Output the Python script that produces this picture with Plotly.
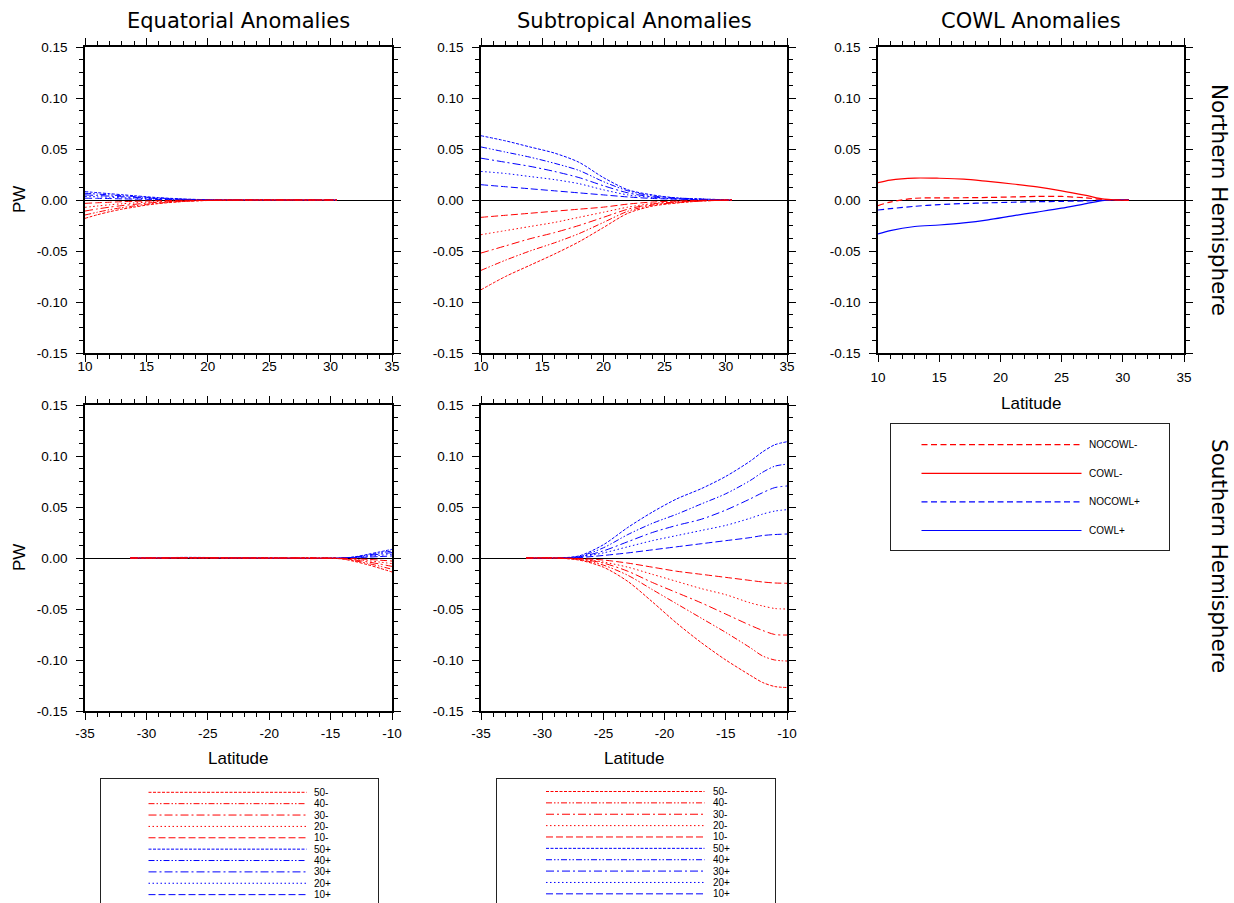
import plotly.graph_objects as go

W, H = 1234, 903

# ---------------- data ----------------
series_names = ["50-", "40-", "30-", "20-", "10-", "50+", "40+", "30+", "20+", "10+"]
cowl_names = ["NOCOWL-", "COWL-", "NOCOWL+", "COWL+"]

x_ticks_nh = [10, 15, 20, 25, 30, 35]
x_ticks_nh_text = ["10", "15", "20", "25", "30", "35"]
x_ticks_sh = [-35, -30, -25, -20, -15, -10]
x_ticks_sh_text = ["-35", "-30", "-25", "-20", "-15", "-10"]
y_ticks = [-0.15, -0.10, -0.05, 0.0, 0.05, 0.10, 0.15]
y_ticks_text = ["-0.15", "-0.10", "-0.05", "0.00", "0.05", "0.10", "0.15"]

# Equatorial anomalies, Northern Hemisphere
eq_nh_lat = [10, 11, 12, 13, 14, 15, 16, 18, 20, 24, 28, 30.5]
eq_nh_neg = [
    [-0.0180, -0.0145, -0.0115, -0.0090, -0.0070, -0.0050, -0.0035, -0.0015, -0.0005, 0, 0, 0],
    [-0.0147, -0.0120, -0.0095, -0.0075, -0.0058, -0.0042, -0.0030, -0.0013, -0.0004, 0, 0, 0],
    [-0.0108, -0.0088, -0.0070, -0.0055, -0.0043, -0.0031, -0.0022, -0.0010, -0.0003, 0, 0, 0],
    [-0.0072, -0.0059, -0.0047, -0.0037, -0.0029, -0.0021, -0.0015, -0.0007, -0.0002, 0, 0, 0],
    [-0.0033, -0.0027, -0.0022, -0.0017, -0.0013, -0.0010, -0.0007, -0.0003, -0.0001, 0, 0, 0],
]
eq_nh_pos = [
    [0.0082, 0.0072, 0.0062, 0.0052, 0.0042, 0.0032, 0.0023, 0.0010, 0.0003, 0, 0, 0],
    [0.0066, 0.0058, 0.0050, 0.0042, 0.0034, 0.0026, 0.0019, 0.0008, 0.0002, 0, 0, 0],
    [0.0050, 0.0044, 0.0038, 0.0032, 0.0026, 0.0020, 0.0014, 0.0006, 0.0002, 0, 0, 0],
    [0.0035, 0.0031, 0.0027, 0.0022, 0.0018, 0.0014, 0.0010, 0.0004, 0.0001, 0, 0, 0],
    [0.0018, 0.0016, 0.0014, 0.0011, 0.0009, 0.0007, 0.0005, 0.0002, 0.0001, 0, 0, 0],
]

# Subtropical anomalies, Northern Hemisphere
st_nh_lat = [10, 12, 14, 16, 18, 20, 22, 24, 26, 28, 30.5]
st_nh_neg = [
    [-0.088, -0.075, -0.064, -0.053, -0.041, -0.027, -0.013, -0.006, -0.003, -0.001, 0],
    [-0.069, -0.059, -0.050, -0.042, -0.033, -0.022, -0.011, -0.005, -0.0025, -0.001, 0],
    [-0.052, -0.045, -0.038, -0.032, -0.025, -0.017, -0.009, -0.004, -0.002, -0.0008, 0],
    [-0.034, -0.030, -0.026, -0.022, -0.017, -0.012, -0.007, -0.0035, -0.0015, -0.0005, 0],
    [-0.017, -0.015, -0.013, -0.011, -0.009, -0.007, -0.004, -0.002, -0.001, -0.0003, 0],
]
st_nh_pos = [
    [0.063, 0.058, 0.052, 0.046, 0.037, 0.022, 0.010, 0.005, 0.002, 0.001, 0],
    [0.052, 0.047, 0.042, 0.036, 0.029, 0.018, 0.009, 0.004, 0.002, 0.001, 0],
    [0.041, 0.037, 0.033, 0.028, 0.022, 0.014, 0.007, 0.003, 0.0015, 0.0005, 0],
    [0.028, 0.026, 0.023, 0.020, 0.016, 0.010, 0.005, 0.0025, 0.001, 0.0005, 0],
    [0.015, 0.013, 0.011, 0.009, 0.007, 0.005, 0.003, 0.0015, 0.0008, 0.0003, 0],
]

# COWL anomalies, Northern Hemisphere
cowl_lat = [10, 11, 13, 15, 17, 19, 21, 23, 25, 27, 28.5, 30.5]
nocowl_minus = [-0.0055, -0.0020, 0.0017, 0.0020, 0.0022, 0.0025, 0.0030, 0.0035, 0.0035, 0.0020, 0.0003, 0]
cowl_minus = [0.0170, 0.0195, 0.0215, 0.0213, 0.0205, 0.0182, 0.0157, 0.0128, 0.0090, 0.0045, 0.0008, -0.0003]
nocowl_plus = [-0.0098, -0.0085, -0.0062, -0.0045, -0.0035, -0.0028, -0.0022, -0.0017, -0.0013, -0.0008, 0, 0]
cowl_plus = [-0.0333, -0.0300, -0.0260, -0.0245, -0.0225, -0.0195, -0.0155, -0.0118, -0.0080, -0.0035, -0.0003, 0.0003]

# Equatorial anomalies, Southern Hemisphere
eq_sh_lat = [-31.3, -29, -27, -25, -23, -21, -19, -17, -15, -14, -13, -12, -11, -10]
eq_sh_neg = [
    [0, 0, 0.0002, 0.0002, 0.0001, 0, 0, 0, -0.0003, -0.0010, -0.0035, -0.0065, -0.0100, -0.0137],
    [0, 0, 0.0002, 0.0002, 0.0001, 0, 0, 0, -0.0002, -0.0008, -0.0028, -0.0052, -0.0080, -0.0110],
    [0, 0, 0.0001, 0.0001, 0, 0, 0, 0, -0.0002, -0.0006, -0.0020, -0.0038, -0.0059, -0.0082],
    [0, 0, 0.0001, 0.0001, 0, 0, 0, 0, -0.0001, -0.0004, -0.0014, -0.0026, -0.0040, -0.0055],
    [0, 0, 0, 0, 0, 0, 0, 0, -0.0001, -0.0002, -0.0007, -0.0013, -0.0021, -0.0030],
]
eq_sh_pos = [
    [0, 0.0002, 0.0006, 0.0005, 0.0002, 0, -0.0003, -0.0005, -0.0004, 0, 0.0012, 0.0035, 0.0060, 0.0085],
    [0, 0.0002, 0.0005, 0.0004, 0.0002, 0, -0.0003, -0.0004, -0.0003, 0, 0.0010, 0.0028, 0.0049, 0.0069],
    [0, 0.0001, 0.0004, 0.0003, 0.0001, 0, -0.0002, -0.0003, -0.0002, 0, 0.0008, 0.0022, 0.0038, 0.0053],
    [0, 0.0001, 0.0003, 0.0002, 0.0001, 0, -0.0001, -0.0002, -0.0001, 0, 0.0005, 0.0015, 0.0026, 0.0037],
    [0, 0, 0.0001, 0.0001, 0, 0, -0.0001, -0.0001, -0.0001, 0, 0.0003, 0.0008, 0.0014, 0.0020],
]

# Subtropical anomalies, Southern Hemisphere
st_sh_lat = [-31.3, -29, -27, -25, -23, -21, -19, -17, -15, -13, -12, -11, -10]
st_sh_neg = [
    [0, 0, -0.002, -0.009, -0.023, -0.043, -0.064, -0.083, -0.100, -0.115, -0.122, -0.126, -0.127],
    [0, 0, -0.0015, -0.007, -0.017, -0.031, -0.045, -0.059, -0.073, -0.088, -0.096, -0.100, -0.101],
    [0, 0, -0.001, -0.005, -0.013, -0.024, -0.034, -0.044, -0.055, -0.066, -0.071, -0.075, -0.0755],
    [0, 0, -0.0008, -0.004, -0.009, -0.016, -0.023, -0.030, -0.036, -0.044, -0.047, -0.0495, -0.050],
    [0, 0, -0.0005, -0.002, -0.005, -0.009, -0.013, -0.016, -0.019, -0.022, -0.0235, -0.0245, -0.0248],
]
st_sh_pos = [
    [0, 0, 0.002, 0.013, 0.030, 0.045, 0.058, 0.068, 0.080, 0.095, 0.104, 0.111, 0.114],
    [0, 0, 0.0015, 0.010, 0.023, 0.034, 0.043, 0.053, 0.063, 0.076, 0.084, 0.090, 0.092],
    [0, 0, 0.001, 0.007, 0.016, 0.025, 0.032, 0.038, 0.047, 0.058, 0.064, 0.069, 0.0706],
    [0, 0, 0.0008, 0.005, 0.011, 0.017, 0.022, 0.027, 0.032, 0.039, 0.043, 0.046, 0.0474],
    [0, 0, 0.0004, 0.0025, 0.005, 0.008, 0.011, 0.014, 0.017, 0.020, 0.022, 0.023, 0.0235],
]

# ---------------- styles ----------------
RED, BLUE = "#ff0000", "#0000ff"
dash_set = ["3px,1.5px", "6px,2px,1.5px,2px,1.5px,2px", "8px,3px,2px,3px", "1.5px,2.5px", "7px,3px"]
series_colors = [RED] * 5 + [BLUE] * 5
series_dash = dash_set + dash_set
cowl_colors = [RED, RED, BLUE, BLUE]
cowl_dash = ["6px,3.5px", "solid", "6px,3.5px", "solid"]

TICKFONT = dict(family="Liberation Sans, Arial, sans-serif", size=13.5, color="black")
LABFONT = dict(family="Liberation Sans, Arial, sans-serif", size=17, color="black")
TITLEFONT = dict(family="DejaVu Sans, sans-serif", size=21, color="black")
LEGFONT = dict(family="Liberation Sans, Arial, sans-serif", size=10, color="black")


def xd(a, b):
    return [a / W, b / W]


def yd(top, bottom):
    return [1 - bottom / H, 1 - top / H]


fig = go.Figure()

panels = [
    # (axis suffix, lats, neg, pos, x range, ticks, texts, x domain, y domain, x-label standoff)
    ("", eq_nh_lat, eq_nh_neg, eq_nh_pos, [10, 35], x_ticks_nh, x_ticks_nh_text, xd(85, 392), yd(47, 353), -7),
    ("2", st_nh_lat, st_nh_neg, st_nh_pos, [10, 35], x_ticks_nh, x_ticks_nh_text, xd(481, 787), yd(47, 353), -7),
    ("4", eq_sh_lat, eq_sh_neg, eq_sh_pos, [-35, -10], x_ticks_sh, x_ticks_sh_text, xd(85, 392), yd(405, 711), 2),
    ("5", st_sh_lat, st_sh_neg, st_sh_pos, [-35, -10], x_ticks_sh, x_ticks_sh_text, xd(481, 787), yd(405, 711), 2),
]


def axis_pair(sfx, xr, xt, xtt, xdom, ydom, xstand):
    xa = dict(domain=xdom, range=xr, anchor="y" + sfx, tickmode="array", tickvals=xt, ticktext=xtt,
              ticks="outside", ticklen=7, tickwidth=1.3, tickcolor="black",
              showline=True, linewidth=1.5, linecolor="black", mirror="ticks",
              showgrid=False, zeroline=False, tickfont=TICKFONT, ticklabelstandoff=xstand,
              automargin=False,
              minor=dict(tickmode="linear", tick0=0, dtick=1, ticks="outside", ticklen=4,
                         tickwidth=1, tickcolor="black", showgrid=False))
    ya = dict(domain=ydom, range=[-0.15, 0.15], anchor="x" + sfx, tickmode="array", tickvals=y_ticks,
              ticktext=y_ticks_text, ticks="outside", ticklen=7, tickwidth=1.3, tickcolor="black",
              showline=True, linewidth=1.5, linecolor="black", mirror="ticks",
              showgrid=False, zeroline=True, zerolinecolor="black", zerolinewidth=1,
              tickfont=TICKFONT, ticklabelstandoff=6, automargin=False,
              minor=dict(tickmode="linear", tick0=0, dtick=0.0125, ticks="outside", ticklen=4,
                         tickwidth=1, tickcolor="black", showgrid=False))
    return xa, ya


layout_axes = {}
for sfx, lats, neg, pos, xr, xt, xtt, xdom, ydom, xstand in panels:
    order = [(pos[i], 5 + i) for i in range(5)] + [(neg[i], i) for i in range(5)]
    for vals, k in order:
        fig.add_trace(go.Scatter(x=lats, y=vals, mode="lines", name=series_names[k], showlegend=False,
                                 line=dict(color=series_colors[k], dash=series_dash[k], width=1,
                                           shape="spline", smoothing=0.8),
                                 xaxis="x" + sfx, yaxis="y" + sfx))
    xa, ya = axis_pair(sfx, xr, xt, xtt, xdom, ydom, xstand)
    layout_axes["xaxis" + sfx] = xa
    layout_axes["yaxis" + sfx] = ya

# COWL panel
cowl_series = [nocowl_minus, cowl_minus, nocowl_plus, cowl_plus]
for k in [3, 2, 1, 0]:
    fig.add_trace(go.Scatter(x=cowl_lat, y=cowl_series[k], mode="lines", name=cowl_names[k], showlegend=False,
                             line=dict(color=cowl_colors[k], dash=cowl_dash[k], width=1.2,
                                       shape="spline", smoothing=0.8),
                             xaxis="x3", yaxis="y3"))
xa, ya = axis_pair("3", [10, 35], x_ticks_nh, x_ticks_nh_text, xd(878, 1184), yd(47, 353), 4)
layout_axes["xaxis3"] = xa
layout_axes["yaxis3"] = ya

# ---------------- legend boxes (drawn as framed sub-areas) ----------------
annotations = []


def legend_box(sfx, left, right, top, bottom, names, colors, dashes, row0, rowstep, lx0, lx1, tx,
               closed, lw):
    width = right - left
    height = bottom - top
    layout_axes["xaxis" + sfx] = dict(domain=xd(left, right), range=[0, width], anchor="y" + sfx,
                                      showline=True, linewidth=1.3, linecolor="#222",
                                      mirror=closed, side="top", showticklabels=False, ticks="",
                                      showgrid=False, zeroline=False, fixedrange=True, automargin=False)
    layout_axes["yaxis" + sfx] = dict(domain=yd(top, bottom), range=[height, 0], anchor="x" + sfx,
                                      showline=True, linewidth=1.3, linecolor="#222", mirror=True,
                                      showticklabels=False, ticks="", showgrid=False, zeroline=False,
                                      fixedrange=True, automargin=False)
    for i, nm in enumerate(names):
        ry = row0 + rowstep * i
        fig.add_trace(go.Scatter(x=[lx0, lx1], y=[ry, ry], mode="lines", showlegend=False, hoverinfo="skip",
                                 line=dict(color=colors[i], dash=dashes[i], width=lw),
                                 xaxis="x" + sfx, yaxis="y" + sfx))
        annotations.append(dict(x=tx, y=ry, xref="x" + sfx, yref="y" + sfx, text=nm, showarrow=False,
                                xanchor="left", yanchor="middle", font=LEGFONT))


legend_box("6", 101, 378, 779, H, series_names, series_colors, series_dash, 13.3, 11.37, 47.5, 205.5, 211,
           False, 1)
legend_box("7", 497, 775, 779, H, series_names, series_colors, series_dash, 12.5, 11.37, 49, 207.5, 214,
           False, 1)
legend_box("8", 891, 1169, 424, 550, cowl_names, cowl_colors, cowl_dash, 20.7, 28.6, 30.5, 190.5, 196,
           True, 1.2)

# ---------------- text labels ----------------


def ann(text, x, y, font, angle=0):
    annotations.append(dict(text=text, x=x / W, y=1 - y / H, xref="paper", yref="paper", showarrow=False,
                            xanchor="center", yanchor="middle", font=font, textangle=angle))


ann("Equatorial Anomalies", 238.5, 21, TITLEFONT)
ann("Subtropical Anomalies", 634, 21, TITLEFONT)
ann("COWL Anomalies", 1031, 21, TITLEFONT)
ann("Northern Hemisphere", 1220, 200, dict(TITLEFONT, size=21.5), 90)
ann("Southern Hemisphere", 1220, 556, dict(TITLEFONT, size=21.5), 90)
ann("PW", 19, 200, LABFONT, -90)
ann("PW", 19, 558, LABFONT, -90)
ann("Latitude", 1031, 403, LABFONT)
ann("Latitude", 238.5, 758, LABFONT)
ann("Latitude", 634, 758, LABFONT)

fig.update_layout(width=W, height=H, autosize=False,
                  margin=dict(l=0, r=0, t=0, b=0, pad=0, autoexpand=False),
                  paper_bgcolor="white", plot_bgcolor="white", showlegend=False,
                  annotations=annotations, **layout_axes)

fig.write_html("out.html", config={"displayModeBar": False},
               post_script="document.body.style.margin='0px';document.body.style.overflow='hidden';")
